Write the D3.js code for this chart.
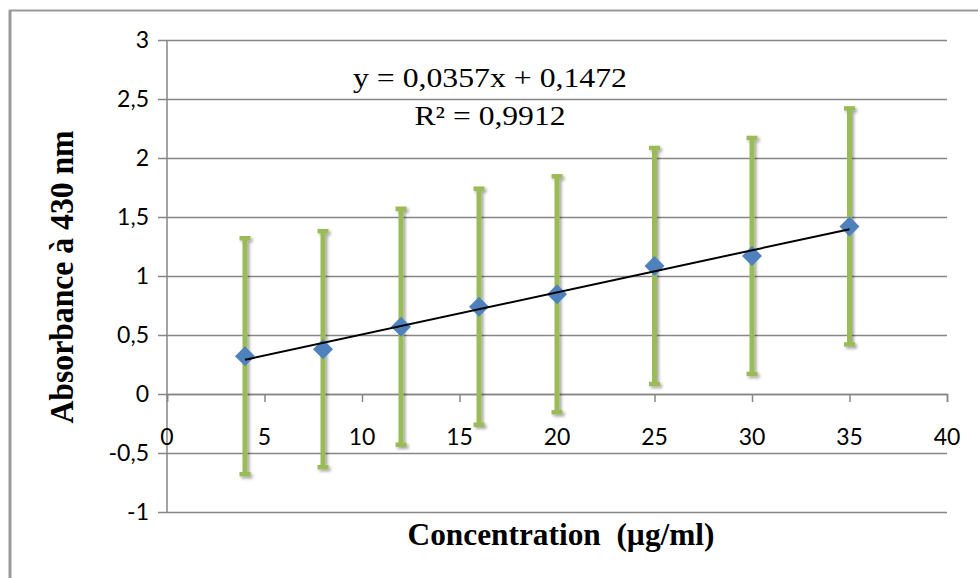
<!DOCTYPE html>
<html>
<head>
<meta charset="utf-8">
<script src="https://cdn.jsdelivr.net/npm/d3@7"></script>
<style>
  body { margin: 0; background: #fff; }
  svg { display: block; }
  .tick-label { font-family: Lato, "Open Sans", sans-serif; font-size: 23px; fill: #000; }
</style>
</head>
<body>
<div id="chart"></div>
<script>
// data
var concentrations = [4, 8, 12, 16, 20, 25, 30, 35];
var absorbances = [0.32, 0.38, 0.57, 0.74, 0.845, 1.085, 1.17, 1.42];
var errorValues = [1, 1, 1, 1, 1, 1, 1, 1];
var xTicks = [0, 5, 10, 15, 20, 25, 30, 35, 40];
var yTicks = [-1, -0.5, 0, 0.5, 1, 1.5, 2, 2.5, 3];
var slope = 0.0357;
var intercept = 0.1472;
var equationText = "y = 0,0357x + 0,1472";
var r2Text = "R\u00b2 = 0,9912";
var xTitle = "Concentration  (\u00b5g/ml)";
var yTitle = "Absorbance \u00e0 430 nm";

var width = 978, height = 578;
var fmt = function(v) { return String(v).replace('.', ','); };

var svg = d3.select('#chart').append('svg')
    .attr('width', width)
    .attr('height', height);

// shadow for the error bars
var defs = svg.append('defs');
var filt = defs.append('filter').attr('id', 'shadow')
    .attr('x', '-50%').attr('y', '-10%').attr('width', '200%').attr('height', '120%');
filt.append('feDropShadow')
    .attr('dx', 2).attr('dy', 2)
    .attr('stdDeviation', 1.5)
    .attr('flood-color', '#000')
    .attr('flood-opacity', 0.35);

// outer frame (only top and left are visible)
svg.append('line').attr('x1', 9).attr('x2', width).attr('y1', 10.5).attr('y2', 10.5)
    .attr('stroke', '#9a9a9a').attr('stroke-width', 2);
svg.append('line').attr('x1', 10).attr('x2', 10).attr('y1', 10).attr('y2', height)
    .attr('stroke', '#9a9a9a').attr('stroke-width', 3);

/* Scales */
var xScale = d3.scaleLinear().domain([0, 40]).range([167, 947]);
var yScale = d3.scaleLinear().domain([-1, 3]).range([512, 40]);

/* horizontal gridlines with outside ticks */
svg.append('g')
    .attr('class', 'grid')
    .attr('transform', 'translate(167,0)')
    .call(d3.axisLeft(yScale).tickValues(yTicks).tickSize(-(947 - 167)).tickFormat(''))
    .call(function(g) {
        g.select('.domain').remove();
        g.selectAll('line').attr('stroke', '#868686').attr('stroke-width', 1.5).attr('x1', -9);
    });

// y axis line
svg.append('line')
    .attr('x1', xScale(0)).attr('x2', xScale(0))
    .attr('y1', yScale(3)).attr('y2', yScale(-1))
    .attr('stroke', '#868686').attr('stroke-width', 1.5);

// y tick labels
svg.append('g').selectAll('text')
    .data(yTicks).enter()
    .append('text')
    .attr('class', 'tick-label')
    .attr('x', 149)
    .attr('y', d => yScale(d))
    .attr('dy', '0.36em')
    .attr('text-anchor', 'end')
    .text(d => fmt(d));

/* x axis at y = 0 */
var xAxis = d3.axisBottom(xScale).tickValues(xTicks).tickSize(8).tickFormat('');
svg.append('g')
    .attr('class', 'x axis')
    .attr('transform', 'translate(0,' + yScale(0) + ')')
    .call(xAxis)
    .call(function(g) {
        g.select('.domain').attr('stroke', '#868686').attr('stroke-width', 1.5);
        g.selectAll('line').attr('stroke', '#868686').attr('stroke-width', 1.5);
    });

svg.append('g').selectAll('text')
    .data(xTicks).enter()
    .append('text')
    .attr('class', 'tick-label')
    .attr('x', d => xScale(d))
    .attr('y', 445)
    .attr('text-anchor', 'middle')
    .text(d => d);

/* error bars */
var points = concentrations.map(function(c, i) {
    return { x: c, y: absorbances[i], err: errorValues[i] };
});

var bars = svg.append('g').attr('class', 'error-bars')
    .attr('filter', 'url(#shadow)');
var barColor = '#9bbb59';
bars.selectAll('.bar').data(points).enter()
    .append('line')
    .attr('x1', d => xScale(d.x)).attr('x2', d => xScale(d.x))
    .attr('y1', d => yScale(d.y + d.err)).attr('y2', d => yScale(d.y - d.err))
    .attr('stroke', barColor).attr('stroke-width', 5);
bars.selectAll('.cap-top').data(points).enter()
    .append('line')
    .attr('x1', d => xScale(d.x) - 5.5).attr('x2', d => xScale(d.x) + 5.5)
    .attr('y1', d => yScale(d.y + d.err)).attr('y2', d => yScale(d.y + d.err))
    .attr('stroke', barColor).attr('stroke-width', 4.5);
bars.selectAll('.cap-bottom').data(points).enter()
    .append('line')
    .attr('x1', d => xScale(d.x) - 5.5).attr('x2', d => xScale(d.x) + 5.5)
    .attr('y1', d => yScale(d.y - d.err)).attr('y2', d => yScale(d.y - d.err))
    .attr('stroke', barColor).attr('stroke-width', 4.5);

/* diamond markers */
var diamond = d3.symbol().type(d3.symbolSquare).size(200);
svg.append('g').selectAll('path')
    .data(points).enter()
    .append('path')
    .attr('d', diamond)
    .attr('transform', d => 'translate(' + xScale(d.x) + ',' + yScale(d.y) + ') rotate(45)')
    .attr('fill', '#4f81bd');

/* linear trendline */
var xMin = d3.min(concentrations), xMax = d3.max(concentrations);
var trend = [xMin, xMax].map(x => ({ x: x, y: slope * x + intercept }));
svg.append('path')
    .datum(trend)
    .attr('d', d3.line().x(d => xScale(d.x)).y(d => yScale(d.y)))
    .attr('fill', 'none')
    .attr('stroke', '#000')
    .attr('stroke-width', 2);

/* equation label */
svg.append('text')
    .attr('x', 490).attr('y', 87)
    .attr('text-anchor', 'middle')
    .attr('textLength', 274).attr('lengthAdjust', 'spacingAndGlyphs')
    .style('font-family', '"Liberation Serif", "Times New Roman", serif')
    .style('font-size', '27px')
    .text(equationText);
svg.append('text')
    .attr('x', 490).attr('y', 125)
    .attr('text-anchor', 'middle')
    .attr('textLength', 151).attr('lengthAdjust', 'spacingAndGlyphs')
    .style('font-family', '"Liberation Serif", "Times New Roman", serif')
    .style('font-size', '27px')
    .text(r2Text);

/* axis titles */
svg.append('text')
    .attr('x', 561).attr('y', 545)
    .attr('text-anchor', 'middle')
    .attr('textLength', 307).attr('lengthAdjust', 'spacingAndGlyphs')
    .style('white-space', 'pre')
    .style('font-family', '"Liberation Serif", "Times New Roman", serif')
    .style('font-weight', 'bold')
    .style('font-size', '31px')
    .text(xTitle);

svg.append('text')
    .attr('transform', 'translate(73,277) rotate(-90)')
    .attr('text-anchor', 'middle')
    .attr('textLength', 293).attr('lengthAdjust', 'spacingAndGlyphs')
    .style('font-family', '"Liberation Serif", "Times New Roman", serif')
    .style('font-weight', 'bold')
    .style('font-size', '33px')
    .text(yTitle);
</script>
</body>
</html>
